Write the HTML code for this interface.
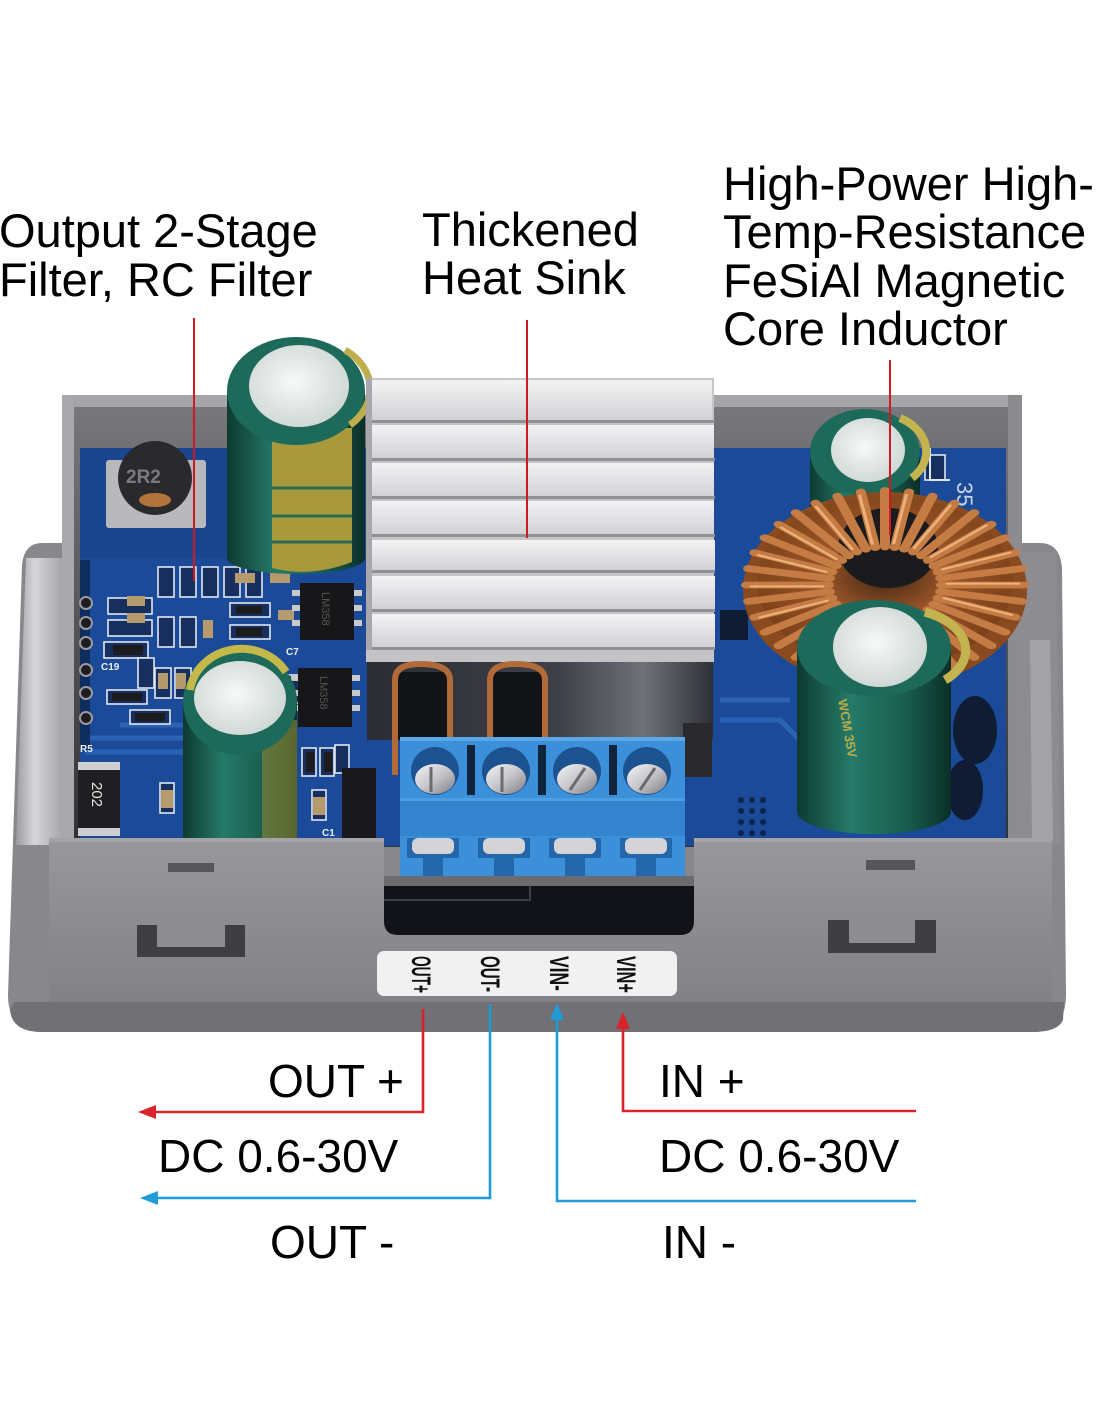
<!DOCTYPE html>
<html><head><meta charset="utf-8"><style>
html,body{margin:0;padding:0;background:#fff;}
svg{display:block;}
text{font-family:"Liberation Sans",Arial,sans-serif;}
</style></head><body>
<svg width="1100" height="1422" viewBox="0 0 1100 1422" xmlns="http://www.w3.org/2000/svg">
<defs>
 <linearGradient id="gFront" x1="0" y1="0" x2="0" y2="1"><stop offset="0" stop-color="#98989c"/><stop offset="1" stop-color="#828286"/></linearGradient>
 <linearGradient id="gInner" x1="0" y1="0" x2="0" y2="1"><stop offset="0" stop-color="#77777c"/><stop offset="1" stop-color="#303136"/></linearGradient>
 <linearGradient id="gGreen" x1="0" y1="0" x2="1" y2="0"><stop offset="0" stop-color="#0d3a31"/><stop offset="0.35" stop-color="#257a68"/><stop offset="0.7" stop-color="#1a5e50"/><stop offset="1" stop-color="#0b2f28"/></linearGradient>
 <radialGradient id="gWhite" cx="0.45" cy="0.45" r="0.6"><stop offset="0" stop-color="#f7f9f8"/><stop offset="1" stop-color="#cdd5d2"/></radialGradient>
 <linearGradient id="gSilver" x1="0" y1="0" x2="1" y2="1"><stop offset="0" stop-color="#f4f4f6"/><stop offset="0.5" stop-color="#c6c6cb"/><stop offset="1" stop-color="#7d7d84"/></linearGradient>
 <linearGradient id="gSinkDark" x1="0" y1="0" x2="1" y2="0"><stop offset="0" stop-color="#2a2d34"/><stop offset="0.55" stop-color="#3d4048"/><stop offset="0.8" stop-color="#6e7178"/><stop offset="1" stop-color="#2e3037"/></linearGradient>
 <linearGradient id="gFin" x1="0" y1="0" x2="0" y2="1"><stop offset="0" stop-color="#f3f3f4"/><stop offset="1" stop-color="#d2d2d5"/></linearGradient>
 <radialGradient id="gCopper" cx="0.5" cy="0.45" r="0.55"><stop offset="0" stop-color="#3a2414"/><stop offset="0.45" stop-color="#9a5428"/><stop offset="1" stop-color="#7a4018"/></radialGradient>
 <linearGradient id="gFlangeL" x1="0" y1="0" x2="1" y2="0"><stop offset="0" stop-color="#9c9ca0"/><stop offset="0.4" stop-color="#d6d6da"/><stop offset="1" stop-color="#a8a8ac"/></linearGradient>
</defs>

<rect width="1100" height="1422" fill="#fff"/>

<!-- ===== Top labels ===== -->
<g font-size="47" fill="#000">
 <text x="-1" y="247">Output 2-Stage</text>
 <text x="-1" y="296">Filter, RC Filter</text>
 <text x="422" y="246">Thickened</text>
 <text x="422" y="294">Heat Sink</text>
 <text x="723" y="200">High-Power High-</text>
 <text x="723" y="248">Temp-Resistance</text>
 <text x="723" y="297">FeSiAl Magnetic</text>
 <text x="723" y="345">Core Inductor</text>
</g>

<!-- ===== Flange / back plate ===== -->
<path d="M42,543 Q24,543 22,565 L8,995 Q8,1032 42,1032 L1032,1032 Q1066,1032 1066,995 L1062,568 Q1060,543 1040,543 Z" fill="#88888c"/>
<path d="M26,558 L62,558 L62,845 L16,845 Z" fill="url(#gFlangeL)"/>
<path d="M1022,552 L1056,552 L1060,845 L1022,845 Z" fill="#8d8d91"/>
<path d="M1030,640 L1050,640 L1053,840 L1032,840 Z" fill="#a3a3a7"/>

<!-- ===== Box walls ===== -->
<rect x="62" y="395" width="960" height="450" fill="#9b9b9f"/>
<rect x="74" y="407" width="934" height="440" fill="url(#gInner)"/>
<rect x="62" y="395" width="960" height="12" fill="#a6a6aa"/>
<rect x="62" y="395" width="12" height="450" fill="#a9a9ad"/>
<rect x="1008" y="395" width="14" height="450" fill="#8c8c90"/>

<!-- ===== PCB ===== -->
<rect x="80" y="448" width="926" height="398" fill="#1b4a98"/>
<rect x="80" y="448" width="150" height="110" fill="#1a4690"/>
<g stroke="#2c62b4" stroke-width="5" fill="none">
 <path d="M85,738 L200,738 L230,770"/>
 <path d="M85,752 L195,752 L222,782"/>
 <path d="M120,725 L250,725"/>
 <path d="M720,700 L790,700"/>
 <path d="M720,720 L780,720 L800,740"/>
 <path d="M960,560 L1000,560"/>
</g>
<rect x="80" y="560" width="10" height="190" fill="#0f2c5e"/>
<g fill="#1d1d1f" stroke="#9a9aa0" stroke-width="2">
 <circle cx="86" cy="603" r="6"/><circle cx="86" cy="623" r="6"/><circle cx="86" cy="643" r="6"/>
 <circle cx="86" cy="670" r="6"/><circle cx="86" cy="693" r="6"/><circle cx="86" cy="718" r="6"/>
</g>
<g stroke="#dfe8f2" stroke-width="1.6" fill="#162f5e">
 <rect x="158" y="567" width="16" height="30"/><rect x="180" y="567" width="16" height="30"/>
 <rect x="202" y="567" width="16" height="30"/><rect x="224" y="567" width="16" height="30"/>
 <rect x="246" y="567" width="16" height="30"/>
 <rect x="230" y="603" width="40" height="14"/>
 <rect x="230" y="625" width="40" height="14"/>
 <rect x="108" y="598" width="44" height="16"/>
 <rect x="108" y="620" width="44" height="16"/>
 <rect x="104" y="642" width="44" height="16"/>
 <rect x="158" y="617" width="16" height="30"/><rect x="180" y="617" width="16" height="30"/>
 <rect x="138" y="658" width="16" height="30"/>
 <rect x="155" y="668" width="16" height="30"/><rect x="175" y="668" width="16" height="30"/>
 <rect x="107" y="690" width="40" height="14"/>
 <rect x="130" y="710" width="40" height="14"/>
 <rect x="285" y="675" width="14" height="28"/>
 <rect x="302" y="748" width="14" height="28"/><rect x="320" y="748" width="14" height="28"/>
 <rect x="335" y="745" width="14" height="28"/>
 <rect x="160" y="783" width="14" height="30"/>
 <rect x="312" y="790" width="14" height="30"/>
 <rect x="925" y="455" width="20" height="25"/>
</g>
<g fill="#b59a6e">
 <rect x="127" y="596" width="18" height="10"/><rect x="127" y="613" width="18" height="10"/>
 <rect x="203" y="620" width="10" height="18"/>
 <rect x="158" y="673" width="10" height="16"/><rect x="176" y="673" width="10" height="16"/>
 <rect x="235" y="573" width="20" height="10"/><rect x="270" y="573" width="20" height="10"/>
 <rect x="161" y="790" width="12" height="18"/><rect x="313" y="797" width="12" height="18"/>
 <rect x="278" y="610" width="16" height="10"/>
</g>
<g fill="#1c1c1e">
 <rect x="236" y="606" width="26" height="8"/><rect x="236" y="628" width="26" height="8"/>
 <rect x="113" y="645" width="30" height="10"/><rect x="112" y="693" width="30" height="8"/>
 <rect x="135" y="713" width="30" height="8"/>
 <rect x="306" y="752" width="8" height="20"/><rect x="324" y="752" width="8" height="20"/>
</g>
<g fill="#eaf0f6" font-size="10" font-weight="bold">
 <text x="80" y="752">R5</text>
 <text x="101" y="670">C19</text>
 <text x="322" y="836">C1</text>
 <text x="286" y="655">C7</text>
</g>
<rect x="78" y="762" width="42" height="74" fill="#1f1f21"/>
<rect x="78" y="762" width="42" height="8" fill="#cfcfd2"/>
<rect x="78" y="828" width="42" height="8" fill="#cfcfd2"/>
<text transform="translate(92,782) rotate(90)" font-size="15" fill="#e6e6e6">202</text>
<rect x="342" y="768" width="34" height="70" fill="#19191b"/>
<rect x="106" y="460" width="100" height="68" rx="3" fill="#b9b9bc"/>
<circle cx="155" cy="478" r="37" fill="#2a2a2c"/>
<ellipse cx="155" cy="500" rx="16" ry="7" fill="#b3733c"/>
<text x="126" y="483" font-size="19" font-weight="bold" fill="#7b7b7e">2R2</text>
<g fill="#c9c9cc">
 <rect x="292" y="590" width="8" height="6"/><rect x="292" y="605" width="8" height="6"/><rect x="292" y="620" width="8" height="6"/>
 <rect x="354" y="590" width="8" height="6"/><rect x="354" y="605" width="8" height="6"/><rect x="354" y="620" width="8" height="6"/>
 <rect x="291" y="675" width="8" height="6"/><rect x="291" y="690" width="8" height="6"/><rect x="291" y="705" width="8" height="6"/>
 <rect x="352" y="675" width="8" height="6"/><rect x="352" y="690" width="8" height="6"/><rect x="352" y="705" width="8" height="6"/>
</g>
<rect x="300" y="583" width="54" height="57" fill="#17171a"/>
<rect x="298" y="668" width="54" height="59" fill="#17171a"/>
<text transform="translate(322,592) rotate(90)" font-size="11" fill="#555">LM358</text>
<text transform="translate(320,676) rotate(90)" font-size="11" fill="#555">LM358</text>

<text transform="translate(957,482) rotate(90)" font-size="22" fill="#c9d6ea">35</text>
<path d="M930,448 V480 H950" stroke="#dfe8f2" stroke-width="2" fill="none"/>
<g fill="#0f1c33">
 <ellipse cx="975" cy="730" rx="22" ry="34"/><ellipse cx="965" cy="790" rx="18" ry="30"/>
 <rect x="720" y="610" width="28" height="30"/>
</g>
<g fill="#0e2450">
 <circle cx="741" cy="800" r="3"/><circle cx="752" cy="800" r="3"/><circle cx="763" cy="800" r="3"/>
 <circle cx="741" cy="811" r="3"/><circle cx="752" cy="811" r="3"/><circle cx="763" cy="811" r="3"/>
 <circle cx="741" cy="822" r="3"/><circle cx="752" cy="822" r="3"/><circle cx="763" cy="822" r="3"/>
 <circle cx="741" cy="833" r="3"/><circle cx="752" cy="833" r="3"/><circle cx="763" cy="833" r="3"/>
</g>

<!-- ===== Big top-left capacitor ===== -->
<path d="M227,391 L227,558 A69,16 0 0 0 365,558 L365,391 Z" fill="url(#gGreen)"/>
<path d="M272,428 L272,568 Q310,578 352,562 L352,428 Z" fill="#a8993c"/>
<g stroke="#2b6a4f" stroke-width="3">
 <line x1="272" y1="488" x2="352" y2="488"/><line x1="272" y1="516" x2="352" y2="516"/><line x1="272" y1="542" x2="352" y2="542"/>
</g>
<ellipse cx="296" cy="391" rx="69" ry="54" fill="#1d6a5a"/>
<path d="M345,350 A60,48 0 0 1 350,425" stroke="#bfae4e" stroke-width="7" fill="none"/>
<ellipse cx="299" cy="386" rx="50" ry="41" fill="url(#gWhite)"/>

<!-- ===== Lower-left capacitor ===== -->
<path d="M183,700 L183,845 L297,845 L297,700 Z" fill="url(#gGreen)"/>
<path d="M262,720 L297,720 L297,845 L262,845 Z" fill="#8f8b34" opacity="0.6"/>
<ellipse cx="240" cy="702" rx="57" ry="53" fill="#1d6a5a"/>
<path d="M190,690 A52,48 0 0 1 286,672" stroke="#c4b84a" stroke-width="8" fill="none"/>
<ellipse cx="240" cy="698" rx="46" ry="37" fill="url(#gWhite)"/>

<!-- ===== Heat sink ===== -->
<rect x="366" y="378" width="348" height="275" fill="#c6c6c9"/>
<g fill="url(#gFin)">
 <rect x="368" y="380" width="344" height="40"/>
 <rect x="368" y="425" width="346" height="33"/>
 <rect x="368" y="463" width="346" height="33"/>
 <rect x="368" y="501" width="346" height="33"/>
 <rect x="368" y="540" width="347" height="30"/>
 <rect x="368" y="576" width="347" height="33"/>
 <rect x="368" y="614" width="347" height="33"/>
</g>
<g fill="#919195">
 <rect x="366" y="420" width="349" height="3"/><rect x="366" y="458" width="349" height="3"/>
 <rect x="366" y="496" width="349" height="3"/><rect x="366" y="534" width="349" height="3"/>
 <rect x="366" y="570" width="349" height="3"/><rect x="366" y="609" width="349" height="3"/>
 <rect x="366" y="647" width="349" height="3"/>
</g>
<rect x="366" y="378" width="6" height="275" fill="#a8a8ac"/>
<rect x="366" y="650" width="348" height="12" fill="#c4c4c7"/>
<rect x="367" y="662" width="346" height="78" fill="url(#gSinkDark)"/>
<rect x="397" y="672" width="52" height="68" fill="#111317"/>
<rect x="492" y="672" width="50" height="68" fill="#111317"/>
<path d="M395,775 L395,680 Q395,664 420,664 Q450,664 450,680 L450,740" stroke="#b26a38" stroke-width="6" fill="none"/>
<path d="M490,740 L490,680 Q490,664 515,664 Q545,664 545,680 L545,740" stroke="#b26a38" stroke-width="6" fill="none"/>
<rect x="683" y="723" width="29" height="54" fill="#2a2a2e"/>

<!-- ===== Terminal block ===== -->
<rect x="400" y="737" width="285" height="141" fill="#3c8fd9"/>
<rect x="400" y="737" width="285" height="4" fill="#5aa7ea"/>
<g fill="#10243e">
 <rect x="467" y="745" width="8" height="50"/><rect x="538" y="745" width="8" height="50"/><rect x="609" y="745" width="8" height="50"/>
</g>
<g>
 <circle cx="435" cy="771" r="24" fill="#1c528f"/><ellipse cx="435" cy="779" rx="20" ry="15" fill="url(#gSilver)"/>
 <circle cx="506" cy="771" r="24" fill="#1c528f"/><ellipse cx="506" cy="779" rx="20" ry="15" fill="url(#gSilver)"/>
 <circle cx="577" cy="771" r="24" fill="#1c528f"/><ellipse cx="577" cy="779" rx="20" ry="15" fill="url(#gSilver)"/>
 <circle cx="647" cy="771" r="24" fill="#1c528f"/><ellipse cx="647" cy="779" rx="20" ry="15" fill="url(#gSilver)"/>
</g>
<g stroke="#6a6a70" stroke-width="3">
 <line x1="431" y1="767" x2="431" y2="792"/><line x1="502" y1="767" x2="502" y2="792"/>
 <line x1="570" y1="790" x2="585" y2="768"/><line x1="640" y1="790" x2="655" y2="768"/>
</g>
<rect x="400" y="798" width="285" height="38" fill="#3383cf"/>
<rect x="400" y="798" width="285" height="3" fill="#4e9ee4"/>
<g fill="#2466aa">
 <rect x="407" y="838" width="52" height="38"/><rect x="478" y="838" width="52" height="38"/>
 <rect x="549" y="838" width="52" height="38"/><rect x="620" y="838" width="52" height="38"/>
</g>
<g fill="#d4d4d8">
 <rect x="412" y="838" width="42" height="16" rx="6"/><rect x="483" y="838" width="42" height="16" rx="6"/>
 <rect x="554" y="838" width="42" height="16" rx="6"/><rect x="625" y="838" width="42" height="16" rx="6"/>
</g>
<g fill="#3c8fd9">
 <rect x="407" y="858" width="16" height="18"/><rect x="443" y="858" width="16" height="18"/>
 <rect x="478" y="858" width="16" height="18"/><rect x="514" y="858" width="16" height="18"/>
 <rect x="549" y="858" width="16" height="18"/><rect x="585" y="858" width="16" height="18"/>
 <rect x="620" y="858" width="16" height="18"/><rect x="656" y="858" width="16" height="18"/>
</g>
<rect x="384" y="876" width="310" height="10" fill="#6b6b70"/>
<rect x="384" y="886" width="310" height="55" fill="#111318"/>
<path d="M384,900 H530 V886" stroke="#3a3f4a" stroke-width="2" fill="none"/>

<!-- ===== Right top small capacitor ===== -->
<rect x="810" y="452" width="110" height="80" fill="url(#gGreen)"/>
<ellipse cx="865" cy="452" rx="55" ry="43" fill="#1d6a5a"/>
<path d="M900,418 A50,38 0 0 1 912,478" stroke="#c3b450" stroke-width="8" fill="none"/>
<ellipse cx="868" cy="450" rx="37" ry="32" fill="url(#gWhite)"/>

<!-- ===== Toroid inductor ===== -->
<ellipse cx="885" cy="590" rx="142" ry="98" fill="#8a4a20"/>
<ellipse cx="885" cy="582" rx="128" ry="86" fill="url(#gCopper)"/>
<ellipse cx="888" cy="548" rx="50" ry="40" fill="#1b1b1d"/>
<g transform="translate(885,585) scale(1,0.68)" stroke-linecap="round">
 <g stroke="#c47c44" stroke-width="10">
  <line x1="56" y1="0" x2="139" y2="0" transform="rotate(0)"/>
  <line x1="56" y1="0" x2="139" y2="0" transform="rotate(10)"/>
  <line x1="56" y1="0" x2="139" y2="0" transform="rotate(20)"/>
  <line x1="56" y1="0" x2="139" y2="0" transform="rotate(30)"/>
  <line x1="56" y1="0" x2="139" y2="0" transform="rotate(40)"/>
  <line x1="56" y1="0" x2="139" y2="0" transform="rotate(50)"/>
  <line x1="56" y1="0" x2="139" y2="0" transform="rotate(60)"/>
  <line x1="56" y1="0" x2="139" y2="0" transform="rotate(70)"/>
  <line x1="56" y1="0" x2="139" y2="0" transform="rotate(80)"/>
  <line x1="56" y1="0" x2="139" y2="0" transform="rotate(90)"/>
  <line x1="56" y1="0" x2="139" y2="0" transform="rotate(100)"/>
  <line x1="56" y1="0" x2="139" y2="0" transform="rotate(110)"/>
  <line x1="56" y1="0" x2="139" y2="0" transform="rotate(120)"/>
  <line x1="56" y1="0" x2="139" y2="0" transform="rotate(130)"/>
  <line x1="56" y1="0" x2="139" y2="0" transform="rotate(140)"/>
  <line x1="56" y1="0" x2="139" y2="0" transform="rotate(150)"/>
  <line x1="56" y1="0" x2="139" y2="0" transform="rotate(160)"/>
  <line x1="56" y1="0" x2="139" y2="0" transform="rotate(170)"/>
  <line x1="56" y1="0" x2="139" y2="0" transform="rotate(180)"/>
  <line x1="56" y1="0" x2="139" y2="0" transform="rotate(190)"/>
  <line x1="56" y1="0" x2="139" y2="0" transform="rotate(200)"/>
  <line x1="56" y1="0" x2="139" y2="0" transform="rotate(210)"/>
  <line x1="56" y1="0" x2="139" y2="0" transform="rotate(220)"/>
  <line x1="56" y1="0" x2="139" y2="0" transform="rotate(230)"/>
  <line x1="56" y1="0" x2="139" y2="0" transform="rotate(240)"/>
  <line x1="56" y1="0" x2="139" y2="0" transform="rotate(250)"/>
  <line x1="56" y1="0" x2="139" y2="0" transform="rotate(260)"/>
  <line x1="56" y1="0" x2="139" y2="0" transform="rotate(270)"/>
  <line x1="56" y1="0" x2="139" y2="0" transform="rotate(280)"/>
  <line x1="56" y1="0" x2="139" y2="0" transform="rotate(290)"/>
  <line x1="56" y1="0" x2="139" y2="0" transform="rotate(300)"/>
  <line x1="56" y1="0" x2="139" y2="0" transform="rotate(310)"/>
  <line x1="56" y1="0" x2="139" y2="0" transform="rotate(320)"/>
  <line x1="56" y1="0" x2="139" y2="0" transform="rotate(330)"/>
  <line x1="56" y1="0" x2="139" y2="0" transform="rotate(340)"/>
  <line x1="56" y1="0" x2="139" y2="0" transform="rotate(350)"/>
 </g>
 <g stroke="#eeb07a" stroke-width="3">
  <line x1="62" y1="-2" x2="134" y2="-2" transform="rotate(0)"/>
  <line x1="62" y1="-2" x2="134" y2="-2" transform="rotate(20)"/>
  <line x1="62" y1="-2" x2="134" y2="-2" transform="rotate(160)"/>
  <line x1="62" y1="-2" x2="134" y2="-2" transform="rotate(180)"/>
  <line x1="62" y1="-2" x2="134" y2="-2" transform="rotate(200)"/>
  <line x1="62" y1="-2" x2="134" y2="-2" transform="rotate(220)"/>
  <line x1="62" y1="-2" x2="134" y2="-2" transform="rotate(240)"/>
  <line x1="62" y1="-2" x2="134" y2="-2" transform="rotate(260)"/>
  <line x1="62" y1="-2" x2="134" y2="-2" transform="rotate(280)"/>
  <line x1="62" y1="-2" x2="134" y2="-2" transform="rotate(300)"/>
  <line x1="62" y1="-2" x2="134" y2="-2" transform="rotate(320)"/>
  <line x1="62" y1="-2" x2="134" y2="-2" transform="rotate(340)"/>
 </g>
</g>

<!-- ===== Lower right capacitor ===== -->
<path d="M797,648 L797,812 A77,22 0 0 0 951,812 L951,648 Z" fill="url(#gGreen)"/>
<ellipse cx="874" cy="648" rx="77" ry="48" fill="#1d6a5a"/>
<path d="M925,612 A70,42 0 0 1 945,680" stroke="#c3b450" stroke-width="9" fill="none"/>
<ellipse cx="880" cy="647" rx="47" ry="40" fill="url(#gWhite)"/>
<text transform="translate(838,700) rotate(80)" font-size="13" font-weight="bold" fill="#b8ac4a">WCM 35V</text>

<!-- ===== Front wall ===== -->
<path d="M49,838 H384 V921 Q384,935 398,935 H680 Q694,935 694,921 V838 H1052 V1002 H49 Z" fill="url(#gFront)"/>
<rect x="49" y="838" width="335" height="4" fill="#a4a4a8"/>
<rect x="694" y="838" width="358" height="4" fill="#a4a4a8"/>
<path d="M14,1002 H1064 L1063,1020 Q1058,1032 1032,1032 H42 Q12,1032 10,1010 Z" fill="#707075"/>
<rect x="168" y="863" width="46" height="9" fill="#55555a"/>
<rect x="866" y="860" width="49" height="10" fill="#55555a"/>
<rect x="137" y="925" width="108" height="32" fill="#3f3f43"/>
<rect x="157" y="925" width="68" height="22" fill="#8d8d91"/>
<rect x="828" y="920" width="108" height="33" fill="#3f3f43"/>
<rect x="849" y="920" width="66" height="23" fill="#8d8d91"/>

<!-- ===== Label ===== -->
<rect x="377" y="951" width="300" height="45" rx="7" fill="#f1f1f1"/>
<g font-size="27" font-weight="bold" fill="#111">
 <text transform="translate(412,956) rotate(90)" textLength="37" lengthAdjust="spacingAndGlyphs">OUT+</text>
 <text transform="translate(481,956) rotate(90)" textLength="36" lengthAdjust="spacingAndGlyphs">OUT-</text>
 <text transform="translate(550,956) rotate(90)" textLength="35" lengthAdjust="spacingAndGlyphs">VIN-</text>
 <text transform="translate(617,956) rotate(90)" textLength="37" lengthAdjust="spacingAndGlyphs">VIN+</text>
</g>

<!-- ===== Annotation lines (top) ===== -->
<g stroke="#cc1a22" stroke-width="2">
 <line x1="194" y1="318" x2="194" y2="581"/>
 <line x1="527" y1="320" x2="527" y2="538"/>
 <line x1="890" y1="360" x2="890" y2="535"/>
</g>

<!-- ===== Bottom connectors ===== -->
<g fill="none" stroke-width="2.6">
 <path d="M423,1009 V1112 H152" stroke="#d9222a"/>
 <path d="M490,1004 V1198 H154" stroke="#1f9bd7"/>
 <path d="M557,1016 V1201 H916" stroke="#1f9bd7"/>
 <path d="M623,1026 V1111 H916" stroke="#d9222a"/>
</g>
<polygon points="138,1112 156,1105 156,1119" fill="#d9222a"/>
<polygon points="140,1198 158,1191 158,1205" fill="#1f9bd7"/>
<polygon points="557,1003 550,1020 564,1020" fill="#1f9bd7"/>
<polygon points="623,1012 616,1029 630,1029" fill="#d9222a"/>

<g font-size="46" fill="#000">
 <text x="268" y="1097">OUT +</text>
 <text x="158" y="1172">DC 0.6-30V</text>
 <text x="270" y="1258">OUT -</text>
 <text x="659" y="1097">IN +</text>
 <text x="659" y="1172">DC 0.6-30V</text>
 <text x="662" y="1258">IN -</text>
</g>
</svg>
</body></html>
